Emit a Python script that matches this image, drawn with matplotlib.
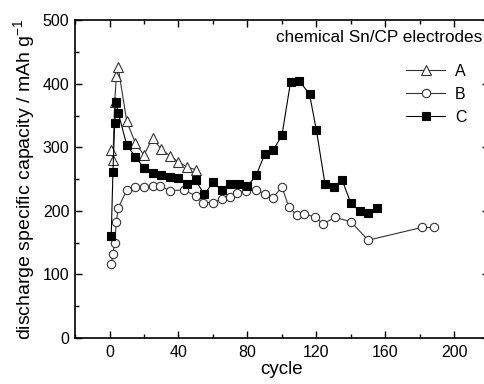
import numpy as np
import matplotlib
matplotlib.use("Agg")
import matplotlib.pyplot as plt
from matplotlib.ticker import MultipleLocator

plt.rcParams["font.family"] = ["Liberation Sans", "DejaVu Sans"]
plt.rcParams["mathtext.default"] = "regular"

cycle_a = [1, 2, 3, 4, 5, 10, 15, 20, 25, 30, 35, 40, 45, 50]
cap_a = [296, 281, 372, 413, 427, 341, 307, 288, 315, 297, 287, 277, 269, 265]

cycle_b = [1, 2, 3, 4, 5, 10, 15, 20, 25, 29, 35, 43, 50, 54, 60, 65, 70,
           74, 79, 85, 90, 95, 100, 104, 109, 113, 119, 124, 131, 140, 150,
           181, 188]
cap_b = [116, 133, 150, 183, 204, 233, 238, 238, 239, 240, 232, 233, 224,
         213, 213, 219, 222, 228, 232, 233, 227, 221, 238, 206, 193, 196,
         190, 180, 190, 183, 154, 174, 174]

cycle_c = [1, 2, 3, 4, 5, 10, 15, 20, 25, 30, 35, 40, 45, 50, 55, 60, 65,
           70, 75, 80, 85, 90, 95, 100, 105, 110, 116, 120, 125, 130, 135,
           140, 145, 150, 155]
cap_c = [161, 262, 338, 372, 355, 304, 285, 268, 260, 256, 253, 252, 243,
         248, 226, 245, 233, 243, 243, 239, 256, 289, 296, 319, 403, 405,
         384, 327, 242, 238, 248, 212, 200, 197, 205]

fig = plt.figure(figsize=(4.84, 3.84), dpi=100)
# right spine sits just past the image edge, as in the original
ax = fig.add_axes([0.155, 0.1198, 0.855, 0.827])

ax.plot(cycle_a, cap_a, color="#333333", lw=0.8, marker="^", ms=7,
        mfc="white", mec="#333333", mew=0.8, label="A")
ax.plot(cycle_b, cap_b, color="#333333", lw=0.8, marker="o", ms=6,
        mfc="white", mec="#333333", mew=0.8, label="B")
ax.plot(cycle_c, cap_c, color="black", lw=0.8, marker="s", ms=6,
        mfc="black", mec="black", mew=0.8, label="C")

ax.set_xlim(-20, 220)
ax.set_ylim(0, 500)
ax.xaxis.set_major_locator(MultipleLocator(40))
ax.xaxis.set_minor_locator(MultipleLocator(20))
ax.yaxis.set_major_locator(MultipleLocator(100))
ax.yaxis.set_minor_locator(MultipleLocator(50))
ax.tick_params(which="both", direction="in", top=True, right=True,
               labelsize=11.5, width=1)
ax.tick_params(which="major", length=5)
ax.tick_params(axis="x", which="major", pad=5)
ax.tick_params(axis="y", which="major", pad=4)
ax.tick_params(which="minor", length=3)
for sp in ax.spines.values():
    sp.set_linewidth(1.2)

ax.set_xlabel("cycle", fontsize=13.5, labelpad=1)
ax.set_ylabel("discharge specific capacity / mAh g$^{-1}$", fontsize=14,
              labelpad=4)

ax.text(0.984, 0.946, "chemical Sn/CP electrodes", transform=ax.transAxes,
        ha="right", va="center", fontsize=12.3)
ax.legend(loc="upper left", bbox_to_anchor=(0.80, 0.864), frameon=False,
          fontsize=11.5, borderpad=0, borderaxespad=0, handlelength=2.45,
          handletextpad=0.6, labelspacing=0.5)

fig.savefig("out.png", dpi=100)
